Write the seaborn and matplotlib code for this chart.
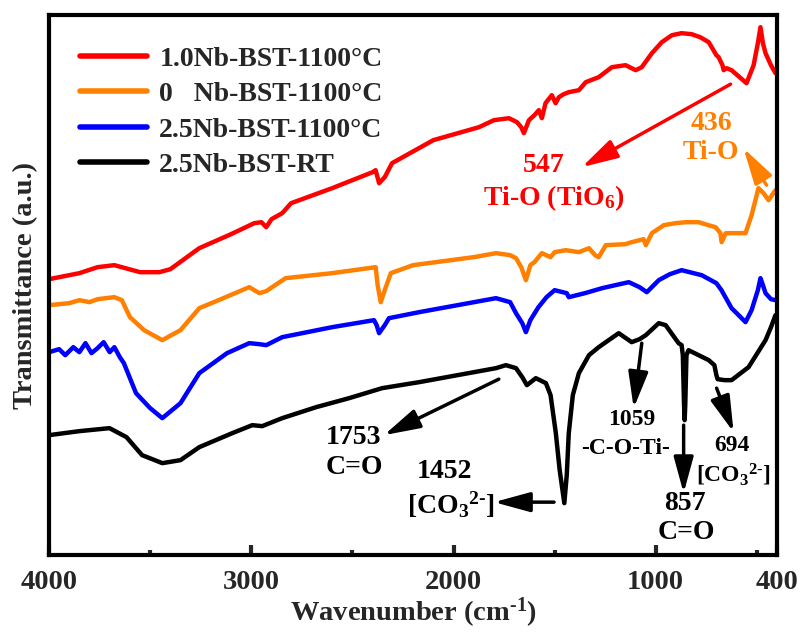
import numpy as np
import pandas as pd
import matplotlib
matplotlib.use("Agg")
import matplotlib.pyplot as plt
import seaborn as sns

# ---------------- data ----------------
labels = ["1.0Nb-BST-1100\u00b0C", "0   Nb-BST-1100\u00b0C", "2.5Nb-BST-1100\u00b0C", "2.5Nb-BST-RT"]
colors = ["#ff0000", "#ff8000", "#0000ff", "#000000"]

wn_red = [4000, 3850, 3760, 3677, 3550, 3454, 3400, 3257, 3100, 2985, 2950, 2926, 2900, 2847,
          2803, 2600, 2400, 2385, 2368, 2340, 2304, 2100, 1874, 1800, 1726, 1686, 1665, 1652,
          1627, 1600, 1578, 1563, 1545, 1514, 1495, 1479, 1455, 1430, 1380, 1346, 1282, 1217,
          1149, 1099, 1069, 1019, 970, 920, 872, 822, 780, 738, 700, 689, 670, 664, 650, 625,
          551, 516, 495, 482, 470, 457, 430, 408]
t_red = [276, 282, 288, 290, 283, 283, 286, 307, 321, 332, 333, 328, 336, 342,
         352, 367, 383, 385, 372, 378, 392, 415, 428, 435, 437, 433, 428, 422,
         435, 440, 445, 437, 452, 460, 452, 458, 461, 463, 465, 473, 478, 488,
         490, 485, 488, 502, 513, 520, 522, 521, 518, 513, 500, 498, 490, 485, 487, 485,
         472, 490, 512, 528, 512, 502, 490, 482]

wn_orange = [4000, 3900, 3850, 3800, 3760, 3677, 3640, 3600, 3530, 3440, 3350, 3257, 3150,
             3010, 2960, 2926, 2860, 2830, 2600, 2385, 2375, 2360, 2340, 2310, 2200, 1900,
             1790, 1720, 1691, 1665, 1642, 1620, 1600, 1563, 1520, 1500, 1445, 1380, 1330,
             1300, 1282, 1247, 1150, 1119, 1060, 1049, 1019, 960, 901, 850, 788, 740, 704,
             680, 674, 654, 600, 556, 526, 492, 467, 442, 408]
t_orange = [250, 252, 255, 253, 256, 258, 255, 238, 225, 215, 225, 247, 256,
            268, 262, 264, 273, 277, 282, 288, 270, 253, 265, 282, 290, 298,
            302, 300, 297, 288, 275, 290, 293, 302, 298, 303, 305, 303, 307,
            300, 298, 310, 311, 313, 316, 310, 322, 330, 332, 333, 333, 330, 328,
            322, 313, 322, 322, 322, 340, 367, 362, 355, 365]

wn_blue = [4000, 3950, 3920, 3880, 3850, 3820, 3790, 3760, 3730, 3700, 3677, 3650, 3630,
           3570, 3500, 3440, 3350, 3257, 3120, 3010, 2960, 2926, 2847, 2600, 2393, 2380,
           2368, 2340, 2319, 2170, 1790, 1720, 1691, 1660, 1642, 1620, 1580, 1540, 1500,
           1440, 1430, 1350, 1265, 1200, 1133, 1080, 1044, 985, 930, 872, 773, 700, 675,
           625, 590, 556, 526, 495, 482, 470, 457, 430, 408]
t_blue = [203, 206, 200, 208, 203, 212, 202, 207, 213, 203, 208, 198, 192,
          162, 147, 137, 152, 182, 202, 212, 211, 210, 218, 228, 235, 230,
          222, 230, 237, 243, 257, 253, 242, 232, 223, 235, 248, 258, 265,
          262, 258, 262, 267, 270, 273, 268, 263, 275, 281, 285, 280, 272, 265,
          247, 240, 233, 245, 265, 277, 270, 262, 256, 255]

wn_black = [4000, 3850, 3701, 3617, 3540, 3440, 3350, 3257, 3094, 2995, 2946, 2847, 2679,
            2516, 2353, 2170, 1790, 1741, 1691, 1660, 1637, 1593, 1543, 1520, 1494, 1475,
            1452, 1440, 1430, 1410, 1380, 1330, 1282, 1183, 1119, 1080, 1049, 985, 951, 887,
            872, 866, 860, 857, 854, 848, 838, 738, 710, 700, 694, 660, 625, 541, 457, 430, 408]
t_black = [120, 124, 127, 118, 100, 92, 95, 108, 122, 130, 129, 137, 148,
           157, 167, 173, 187, 190, 187, 178, 170, 177, 172, 160, 122, 85,
           52, 80, 122, 160, 182, 200, 208, 222, 213, 216, 220, 232, 230, 212,
           210, 200, 150, 135, 150, 200, 205, 195, 190, 180, 176, 175, 175, 188, 215, 228, 240]

series_wn = [wn_red, wn_orange, wn_blue, wn_black]
series_t = [t_red, t_orange, t_blue, t_black]

frames = []
for lab, w, t in zip(labels, series_wn, series_t):
    frames.append(pd.DataFrame({"wavenumber": w, "T": t, "sample": lab}))
df = pd.concat(frames, ignore_index=True)

# ---------------- style ----------------
sns.set_theme(style="ticks")
plt.rcParams["font.family"] = ["Liberation Serif", "DejaVu Serif"]
plt.rcParams["font.weight"] = "bold"
plt.rcParams["mathtext.fontset"] = "custom"
plt.rcParams["mathtext.rm"] = "Liberation Serif:bold"
plt.rcParams["mathtext.it"] = "Liberation Serif:bold"
plt.rcParams["mathtext.bf"] = "Liberation Serif:bold"

fig = plt.figure(figsize=(8.04, 6.33), dpi=100)
ax = fig.add_axes([0.061, 0.123, 0.9055, 0.853])

sns.lineplot(data=df, x="wavenumber", y="T", hue="sample", hue_order=labels,
             palette=colors, sort=False, estimator=None, linewidth=3.2, ax=ax,
             legend=True)

ax.set_xlim(4000, 400)
ax.set_ylim(0, 540)
ax.set_xticks([4000, 3000, 2000, 1000, 400])
ax.set_xticklabels(["4000", "3000", "2000", "1000", "400"])
ax.set_xticks([3500, 2500, 1500, 500], minor=True)
ax.set_yticks([])
ax.tick_params(axis="x", which="major", direction="in", length=7, width=3,
               labelsize=20.5, pad=11, top=False)
ax.tick_params(axis="x", which="minor", direction="in", length=3.5, width=3, top=False)
for lbl in ax.get_xticklabels():
    lbl.set_fontweight("bold")
for sp in ax.spines.values():
    sp.set_visible(True)
    sp.set_linewidth(3)
    sp.set_color("black")

ax.set_xlabel("Wavenumber (cm$^{\\text{-}1}$)", fontsize=20.5, fontweight="bold", labelpad=0)
ax.set_ylabel("Transmittance (a.u.)", fontsize=20.5, fontweight="bold", labelpad=8)

leg = ax.legend(loc="upper left", frameon=False, handlelength=2.4,
                handletextpad=0.45, labelspacing=0.36, borderaxespad=0.72,
                prop={"weight": "bold", "size": 20})
for h in leg.get_lines():
    h.set_linewidth(4)

# ---------------- annotations ----------------
def arrow(x0, y0, x1, y1, color):
    ax.annotate("", xy=(x1, y1), xytext=(x0, y0),
                arrowprops=dict(arrowstyle="-|>,head_length=1.1,head_width=0.3",
                                color=color, lw=2.5, mutation_scale=20,
                                shrinkA=0, shrinkB=0))

def label(x, y, s, color="black", size=20):
    ax.text(x, y, s, color=color, fontsize=size, fontweight="bold",
            ha="center", va="center")

co3 = "[CO$_3$$^{2\\text{-}}$]"

# 547 Ti-O (TiO6)
label(1553, 390, "547", "#ff0000")
label(1504, 357, "Ti-O (TiO$_6$)", "#ff0000")
arrow(630, 471, 1366, 388, "#ff0000")

# 436 Ti-O
label(723, 432, "436", "#ff8000")
label(728, 403, "Ti-O", "#ff8000")
arrow(452, 370, 566, 407, "#ff8000")

# 1753 C=O
label(2496, 118, "1753")
label(2491, 88, "C=O")
arrow(1776, 176, 2344, 120, "black")

# 1452 CO3
label(2046, 84, "1452")
label(2012, 50, co3)
arrow(1503, 53, 1800, 53, "black")

# 1059 -C-O-Ti-
label(1119, 136, "1059", size=17)
label(1148, 107, "-C-O-Ti-", size=17)
arrow(1069, 212, 1109, 147, "black")

# 857 C=O
label(857, 52, "857")
label(847, 23, "C=O")
arrow(862, 130, 862, 62, "black")

# 694 CO3
label(625, 110, "694", size=17)
label(615, 80, co3, size=17)
arrow(699, 167, 615, 123, "black")

fig.savefig("out.png", dpi=100)
